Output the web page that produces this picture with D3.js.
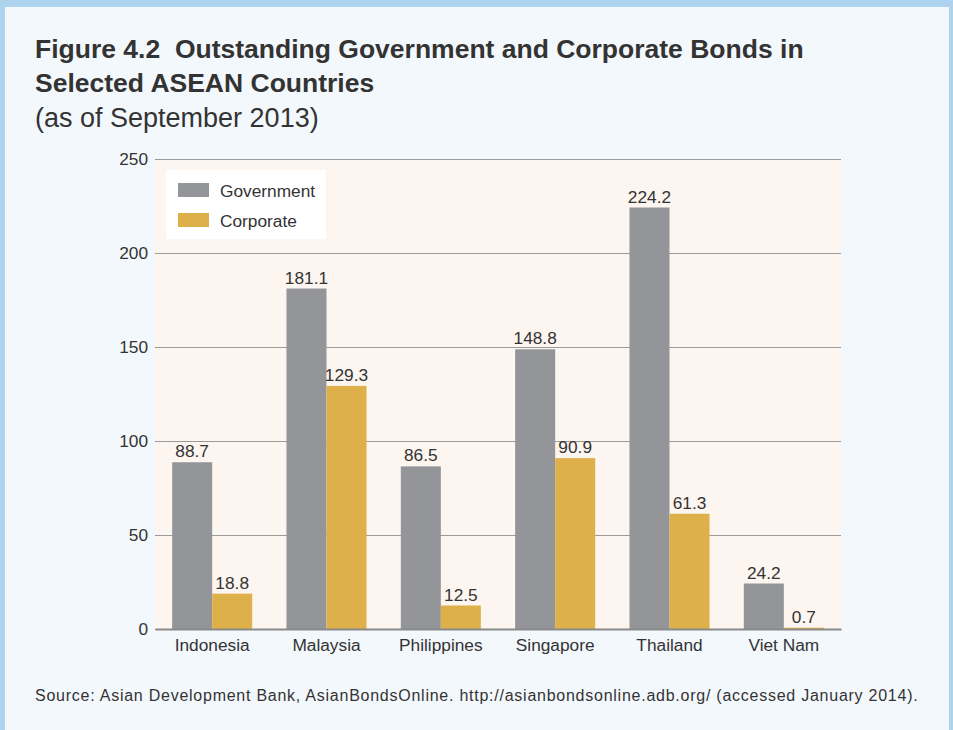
<!DOCTYPE html>
<html>
  <head>
    <style>
      body { margin: 0; background: #f3f8fd; }
      text { font-family: "Liberation Sans", Arial, sans-serif; fill: #333; white-space: pre; }
    </style>
    <script src="https://d3js.org/d3.v7.min.js"></script>
  </head>
  <body>
    <svg class="chart"></svg>

    <script>
      const countries = ['Indonesia', 'Malaysia', 'Philippines', 'Singapore', 'Thailand', 'Viet Nam'];
      const series = ['Government', 'Corporate'];
      const government = [88.7, 181.1, 86.5, 148.8, 224.2, 24.2];
      const corporate = [18.8, 129.3, 12.5, 90.9, 61.3, 0.7];
      const yTicks = [0, 50, 100, 150, 200, 250];
      const colors = ['#939598', '#deb04a'];

      const W = 953, H = 730;
      const plot = { left: 155, right: 841, top: 159, bottom: 629 };
      const fs = 17.3;

      const svg = d3.select('svg').attr('width', W).attr('height', H);

      // frame
      svg.append('rect').attr('width', W).attr('height', H).attr('fill', '#f3f8fd');
      svg.append('rect').attr('x', 0).attr('y', 0).attr('width', W).attr('height', 7).attr('fill', '#aed3ee');
      svg.append('rect').attr('x', 0).attr('y', 0).attr('width', 5).attr('height', H).attr('fill', '#aed3ee');
      svg.append('rect').attr('x', W - 4).attr('y', 0).attr('width', 4).attr('height', H).attr('fill', '#aed3ee');

      // titles
      const title = svg.append('text').attr('x', 35).attr('font-weight', 'bold').attr('font-size', 26.5).attr('fill', '#222');
      title.append('tspan').attr('x', 35).attr('y', 58).text('Figure 4.2  Outstanding Government and Corporate Bonds in');
      title.append('tspan').attr('x', 35).attr('y', 92).text('Selected ASEAN Countries');
      svg.append('text').attr('x', 35).attr('y', 127).attr('font-size', 27).attr('fill', '#222').text('(as of September 2013)');

      const x0 = d3.scaleBand().domain(countries).range([plot.left, plot.right]).paddingInner(0.3).paddingOuter(0.15);
      const x1 = d3.scaleBand().domain(series).range([0, x0.bandwidth()]);
      const y = d3.scaleLinear().domain([0, 250]).range([plot.bottom, plot.top]);

      svg.append('rect')
        .attr('x', plot.left).attr('y', plot.top)
        .attr('width', plot.right - plot.left).attr('height', plot.bottom - plot.top)
        .attr('fill', '#fdf5f0');

      // grid + y labels
      const yAxis = svg.append('g')
        .attr('transform', `translate(${plot.left},0)`)
        .call(d3.axisLeft(y).tickValues(yTicks).tickSize(-(plot.right - plot.left)).tickPadding(7));
      yAxis.select('.domain').remove();
      yAxis.selectAll('.tick line').attr('stroke', '#9a9a9a').attr('stroke-width', 1);
      yAxis.selectAll('.tick text').attr('font-size', fs).attr('font-family', '"Liberation Sans", Arial, sans-serif').attr('fill', '#333');

      const rows = countries.map((c, i) => ({ country: c, values: [government[i], corporate[i]] }));

      const groups = svg.append('g').selectAll('g').data(rows).join('g')
        .attr('transform', d => `translate(${x0(d.country)},0)`);

      groups.selectAll('rect').data(d => d.values.map((v, j) => ({ key: series[j], v, j }))).join('rect')
        .attr('x', d => x1(d.key))
        .attr('y', d => y(d.v))
        .attr('width', x1.bandwidth())
        .attr('height', d => y(0) - y(d.v))
        .attr('fill', d => colors[d.j]);

      groups.selectAll('text.val').data(d => d.values.map((v, j) => ({ key: series[j], v, j }))).join('text')
        .attr('class', 'val')
        .attr('x', d => x1(d.key) + x1.bandwidth() / 2)
        .attr('y', d => y(d.v) - 5)
        .attr('text-anchor', 'middle')
        .attr('font-size', fs)
        .text(d => d.v.toFixed(1));

      // baseline
      const xAxis = svg.append('g')
        .attr('transform', `translate(0,${plot.bottom})`)
        .call(d3.axisBottom(x0).tickSize(0).tickPadding(10));
      xAxis.select('.domain').attr('stroke', '#8a8a8a').attr('stroke-width', 2);
      xAxis.selectAll('.tick text').attr('font-size', fs).attr('font-family', '"Liberation Sans", Arial, sans-serif').attr('fill', '#333');

      // legend
      const legend = svg.append('g');
      legend.append('rect').attr('x', 166).attr('y', 170).attr('width', 160).attr('height', 69).attr('fill', '#fff');
      series.forEach((s, i) => {
        legend.append('rect').attr('x', 178).attr('y', 183 + i * 30).attr('width', 31).attr('height', 14).attr('fill', colors[i]);
        legend.append('text').attr('x', 220).attr('y', 197 + i * 30).attr('font-size', fs).text(s);
      });

      svg.append('text').attr('x', 35).attr('y', 701).attr('font-size', 16).attr('letter-spacing', 0.75).attr('fill', '#333')
        .text('Source: Asian Development Bank, AsianBondsOnline. http://asianbondsonline.adb.org/ (accessed January 2014).');
    </script>
  </body>
</html>
